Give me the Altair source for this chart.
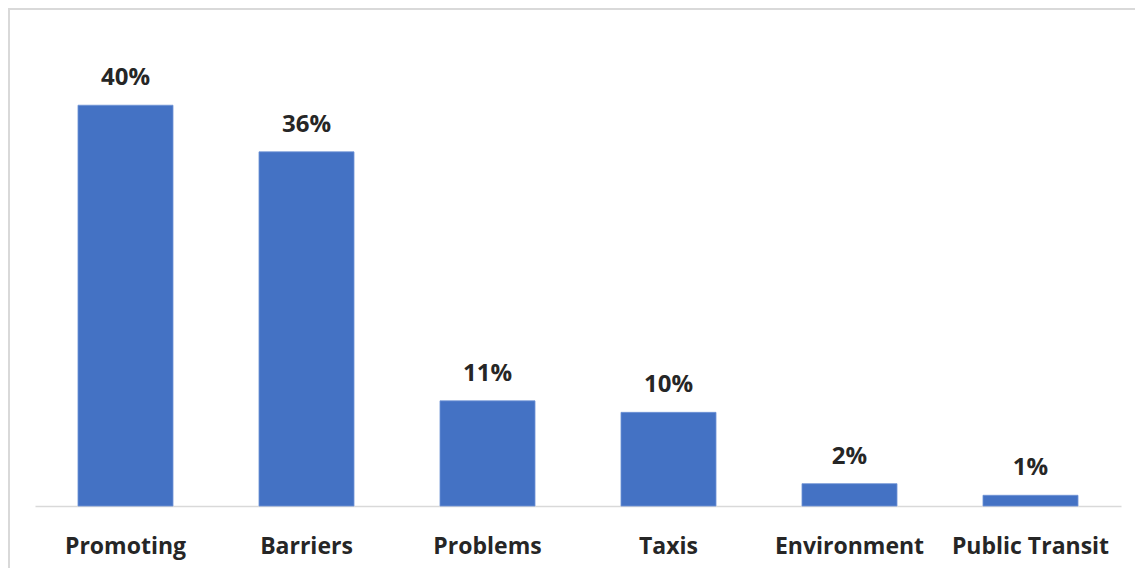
import altair as alt
import pandas as pd

categories = ["Promoting", "Barriers", "Problems", "Taxis", "Environment", "Public Transit"]
values = [40.4, 35.7, 10.6, 9.44, 2.25, 1.08]
labels = ["40%", "36%", "11%", "10%", "2%", "1%"]

df = pd.DataFrame({"cat": categories, "val": values, "lab": labels})

FONT = "Open Sans"
TXT = "#262626"

xscale = alt.Scale(paddingInner=0.475, paddingOuter=0.2375)
yscale = alt.Scale(domain=[0, 50], nice=False)

x = alt.X("cat:N", sort=categories, scale=xscale,
          axis=alt.Axis(title=None, labelAngle=0, labelFont=FONT, labelFontSize=23,
                        labelFontWeight="bold", labelColor=TXT, ticks=False, tickSize=0,
                        labelPadding=47, labelBaseline="alphabetic", grid=False,
                        domainColor="#D9D9D9", domainWidth=1.5, labelLimit=300))
y = alt.Y("val:Q", scale=yscale, axis=None)

bars = alt.Chart(df).mark_bar(color="#4472C4", stroke="#6F93D6", strokeWidth=0.8).encode(x=x, y=y)
text = alt.Chart(df).mark_text(font=FONT, fontSize=24, fontWeight="bold", color=TXT,
                               baseline="alphabetic", dy=-20).encode(
    x=x, y=y, text="lab:N")

border_left = alt.Chart(df).mark_rule(color="#D9D9D9", strokeWidth=2).encode(
    x=alt.value(-26), y=alt.value(-2), y2=alt.value(600))
border_top = alt.Chart(df).mark_rule(color="#D9D9D9", strokeWidth=2).encode(
    x=alt.value(-26), x2=alt.value(1200), y=alt.value(-1))

chart = alt.layer(border_left, border_top, bars, text).properties(
    width=1086, height=496,
    background="white",
    padding={"left": 27, "top": 2, "right": 14, "bottom": 62},
    autosize=alt.AutoSizeParams(type="none"),
).configure_view(stroke=None, strokeWidth=0)

chart.save("out.html", embed_options={"renderer": "svg", "actions": False})
